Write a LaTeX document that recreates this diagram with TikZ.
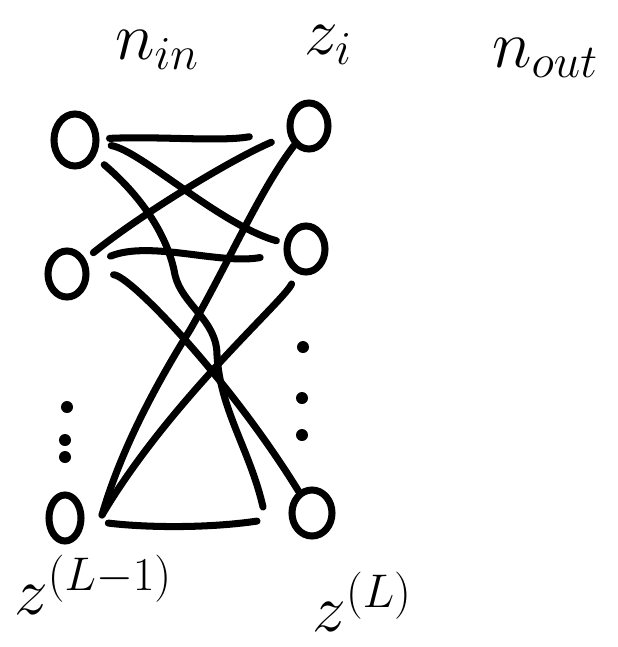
\RequirePackage{fix-cm}
\documentclass[tikz,border=0pt]{standalone}
\usepackage{amsmath,amssymb}
\usepackage{xcolor}
\usepackage{tikz}
\usetikzlibrary{shapes,arrows,positioning,calc}

\begin{document}
\begin{tikzpicture}[
    x=0.025cm, y=-0.025cm,
    neuron/.style={ellipse, draw, line width=5pt, minimum width=0.95cm, minimum height=1.15cm, inner sep=0pt},
    link/.style={line width=5pt, line cap=round},
    dotmark/.style={circle, fill, inner sep=0pt, minimum size=0.3cm},
    lbl/.style={font=\fontsize{48}{48}\selectfont, inner sep=0pt}
]
    \useasboundingbox (0,0) rectangle (618,647);

    \node[lbl] (nin) at (157,50) {$n_{in}$};
    \node[lbl] (zi) at (328,45) {$z_i$};
    \node[lbl] (nout) at (545,58) {$n_{out}$};
    \node[lbl] (zprev) at (93,585) {$z^{(L-1)}$};
    \node[lbl] (zlast) at (362,602) {$z^{(L)}$};

    \node[neuron, minimum width=1.05cm, minimum height=1.3cm] (a1) at (75,140) {};
    \node[neuron] (a2) at (67,274) {};
    \node[neuron, minimum width=0.8cm] (a3) at (65,518) {};
    \node[neuron] (b1) at (309,126) {};
    \node[neuron] (b2) at (306,249) {};
    \node[neuron, minimum width=1.0cm] (b3) at (312,513) {};

    \node[dotmark] (ldot1) at (67,407) {};
    \node[dotmark] (ldot2) at (65,440) {};
    \node[dotmark] (ldot3) at (65,457) {};
    \node[dotmark] (rdot1) at (303,347) {};
    \node[dotmark] (rdot2) at (302,398) {};
    \node[dotmark] (rdot3) at (302,435) {};

    \coordinate (b3end) at (263,507);
    \coordinate (a3hub) at (102,515);

    \draw[link, shorten <=0.25cm, shorten >=0.95cm] (a1) .. controls (160,136) and (220,142) .. (b1);
    \draw[link, shorten <=0.3cm, shorten >=0.2cm] (a1) .. controls (140,150) and (220,225) .. (b2);
    \draw[link, shorten <=0.3cm] (a1) .. controls (140,195) and (168,235) .. (175,275)
        .. controls (182,305) and (217,320) .. (217,355)
        .. controls (220,410) and (250,450) .. (b3end);
    \draw[link, shorten <=0.45cm, shorten >=0.25cm] (b1) .. controls (230,160) and (140,215) .. (a2);
    \draw[link] (b1) .. controls (260,190) and (230,260) .. (190,330)
        .. controls (140,410) and (115,470) .. (a3hub);
    \draw[link, shorten <=0.6cm, shorten >=0.6cm] (a2) .. controls (150,240) and (220,265) .. (b2);
    \draw[link, shorten <=0.6cm] (a2) .. controls (130,275) and (230,380) .. (b3);
    \draw[link, shorten <=0.3cm] (b2) .. controls (285,300) and (170,400) .. (a3hub);
    \draw[link, shorten <=0.6cm, shorten >=0.8cm] (a3) .. controls (150,528) and (210,528) .. (b3);
\end{tikzpicture}
\end{document}
